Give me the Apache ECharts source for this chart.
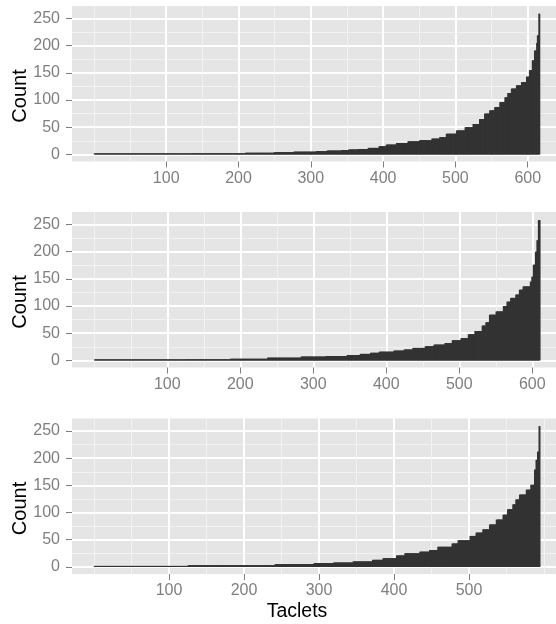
<!DOCTYPE html>
<html>
<head>
<meta charset="utf-8">
<script src="https://cdn.jsdelivr.net/npm/echarts@6/dist/echarts.min.js"></script>
<style>
html, body { margin: 0; padding: 0; background: #fff; }
#main { width: 556px; height: 624px; }
</style>
</head>
<body>
<div id="main"></div>
<script>
var myChart = echarts.init(document.getElementById('main'));

// taclet counts, sorted ascending, read off the picture as runs:
// runEnds = last taclet index of the run, runCounts = count for that run
var runEnds1 = [134, 209, 249, 276, 307, 322, 342, 352, 365, 379, 394, 404, 418, 434, 450, 467, 478, 487, 501, 513,
    524, 533, 540, 547, 554, 561, 568, 572, 577, 584, 591, 598, 602, 606, 609, 612, 613, 615, 616];
var runCounts1 = [1, 2, 3, 4, 5, 6, 7, 8, 9, 10, 12, 15, 18, 21, 24, 26, 29, 32, 38, 44,
    50, 56, 65, 75, 81, 87, 96, 105, 113, 121, 127, 133, 143, 155, 173, 191, 205, 219, 259];

var runEnds2 = [125, 186, 237, 283, 317, 346, 364, 378, 390, 410, 424, 436, 453, 465, 480, 490, 502, 512, 521, 531,
    536, 541, 550, 560, 565, 570, 577, 582, 587, 597, 599, 601, 604, 606, 608, 610];
var runCounts2 = [1, 2, 3, 5, 7, 8, 10, 12, 14, 16, 18, 20, 23, 26, 29, 32, 37, 41, 48, 54,
    64, 70, 84, 90, 100, 108, 115, 121, 130, 136, 145, 154, 176, 200, 221, 258];

var runEnds3 = [125, 241, 293, 319, 345, 371, 385, 403, 414, 434, 447, 458, 477, 485, 501, 509, 518, 527, 536, 545,
    551, 558, 562, 567, 576, 582, 587, 589, 591, 593, 594];
var runCounts3 = [1, 3, 5, 7, 8, 10, 13, 16, 21, 25, 28, 31, 37, 43, 49, 57, 63, 69, 78, 87,
    96, 106, 115, 124, 133, 142, 151, 179, 197, 212, 259];

// tick labels
var xTicksWide = [100, 200, 300, 400, 500, 600];
var xTicksNarrow = [100, 200, 300, 400, 500];
var xMinorWide = [0, 50, 150, 250, 350, 450, 550];
var xMinorNarrow = [0, 50, 150, 250, 350, 450, 550, 600];
var yTicks = [0, 50, 100, 150, 200, 250];
var yMinor = [25, 75, 125, 175, 225];

function expand(ends, counts) {
    var out = [];
    var start = 1;
    for (var r = 0; r < ends.length; r++) {
        for (var i = start; i <= ends[r]; i++) {
            out.push([i, counts[r]]);
        }
        start = ends[r] + 1;
    }
    return out;
}

var panels = [
    { data: expand(runEnds1, runCounts1), ticks: xTicksWide, minor: xMinorWide, top: 6, xmin: -30.3, xmax: 639.1 },
    { data: expand(runEnds2, runCounts2), ticks: xTicksWide, minor: xMinorWide, top: 212, xmin: -30.5, xmax: 632.5 },
    { data: expand(runEnds3, runCounts3), ticks: xTicksNarrow, minor: xMinorNarrow, top: 418.5, xmin: -29.3, xmax: 616 }
];

var grey50 = '#7F7F7F';
var labelFont = { color: grey50, fontSize: 16, fontFamily: 'Liberation Sans' };

var grid = [], xAxis = [], yAxis = [], series = [], graphic = [];

panels.forEach(function (p, k) {
    grid.push({
        left: 72, right: 0, top: p.top, height: 155.5,
        show: true, backgroundColor: '#E5E5E5', borderWidth: 0
    });
    // minor grid lines first, so the major ones sit on top
    xAxis.push({
        type: 'value', gridIndex: k, min: p.xmin, max: p.xmax, position: 'bottom',
        axisLine: { show: false, onZero: false },
        axisTick: { show: false, customValues: p.minor },
        axisLabel: { show: false, customValues: p.minor },
        splitLine: { show: true, lineStyle: { color: '#F2F2F2', width: 1 } }
    });
    yAxis.push({
        type: 'value', gridIndex: k, min: -13, max: 273, position: 'left',
        axisLine: { show: false, onZero: false },
        axisTick: { show: false, customValues: yMinor },
        axisLabel: { show: false, customValues: yMinor },
        splitLine: { show: true, lineStyle: { color: '#F2F2F2', width: 1 } }
    });
    xAxis.push({
        type: 'value', gridIndex: k, min: p.xmin, max: p.xmax, position: 'bottom',
        axisLine: { show: false, onZero: false },
        axisTick: { show: true, length: 6, customValues: p.ticks, lineStyle: { color: grey50, width: 1 } },
        axisLabel: Object.assign({ customValues: p.ticks, margin: 9 }, labelFont),
        splitLine: { show: true, lineStyle: { color: '#FFFFFF', width: 2 } }
    });
    yAxis.push({
        type: 'value', gridIndex: k, min: -13, max: 273, position: 'left',
        axisLine: { show: false, onZero: false },
        axisTick: { show: true, length: 6, customValues: yTicks, lineStyle: { color: grey50, width: 1 } },
        axisLabel: Object.assign({ customValues: yTicks, margin: 12 }, labelFont),
        splitLine: { show: true, lineStyle: { color: '#FFFFFF', width: 2 } }
    });
    series.push({
        type: 'bar',
        xAxisIndex: 2 * k + 1,
        yAxisIndex: 2 * k + 1,
        barWidth: 2,
        barMinHeight: 1,
        itemStyle: { color: '#333333' },
        data: p.data
    });
    graphic.push({
        type: 'text', x: 20, y: p.top + 90, rotation: Math.PI / 2,
        style: {
            text: 'Count', fill: '#000', font: '20px "Liberation Sans"',
            textAlign: 'center', textVerticalAlign: 'middle'
        }
    });
});

graphic.push({
    type: 'text', x: 297, y: 611.5,
    style: {
        text: 'Taclets', fill: '#000', font: '19.5px "Liberation Sans"',
        textAlign: 'center', textVerticalAlign: 'middle'
    }
});

option = {
    animation: false,
    backgroundColor: '#FFFFFF',
    grid: grid,
    xAxis: xAxis,
    yAxis: yAxis,
    series: series,
    graphic: graphic
};
myChart.setOption(option);
</script>
</body>
</html>
